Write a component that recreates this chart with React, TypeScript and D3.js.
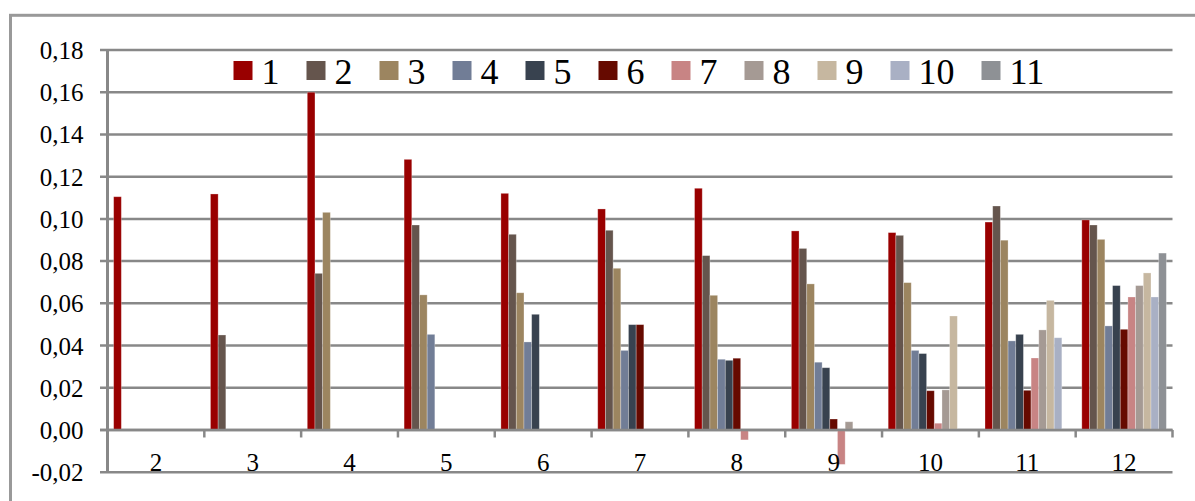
import React from "react";
import * as d3 from "d3";

const categories = ["2", "3", "4", "5", "6", "7", "8", "9", "10", "11", "12"];
const seriesNames = ["1", "2", "3", "4", "5", "6", "7", "8", "9", "10", "11"];
const seriesColors = ["#990000", "#65554D", "#9C8560", "#717D96", "#38424F", "#660A00", "#C88484", "#A59A94", "#C6B7A0", "#A9B0C4", "#8E9195"];

const s1 = [0.1105, 0.1118, 0.16, 0.1282, 0.1121, 0.1047, 0.1145, 0.0943, 0.0935, 0.0985, 0.0995];
const s2 = [null, 0.045, 0.0742, 0.0971, 0.0927, 0.0946, 0.0826, 0.086, 0.0922, 0.1061, 0.0971];
const s3 = [null, null, 0.1031, 0.064, 0.065, 0.0766, 0.0638, 0.0692, 0.0698, 0.0899, 0.0903];
const s4 = [null, null, null, 0.0453, 0.0417, 0.0377, 0.0335, 0.0321, 0.0377, 0.0422, 0.0493];
const s5 = [null, null, null, null, 0.0548, 0.0499, 0.033, 0.0295, 0.0362, 0.0453, 0.0684];
const s6 = [null, null, null, null, null, 0.0499, 0.034, 0.0052, 0.0186, 0.0188, 0.0477];
const s7 = [null, null, null, null, null, null, -0.0047, -0.0163, 0.0032, 0.0341, 0.063];
const s8 = [null, null, null, null, null, null, null, 0.0039, 0.019, 0.0474, 0.0684];
const s9 = [null, null, null, null, null, null, null, null, 0.054, 0.0614, 0.0744];
const s10 = [null, null, null, null, null, null, null, null, null, 0.0437, 0.063];
const s11 = [null, null, null, null, null, null, null, null, null, null, 0.0838];
const seriesValues: (number | null)[][] = [s1, s2, s3, s4, s5, s6, s7, s8, s9, s10, s11];

const yTicks = [-0.02, 0, 0.02, 0.04, 0.06, 0.08, 0.1, 0.12, 0.14, 0.16, 0.18];

const FONT = "Liberation Serif, serif";

export default function App() {
  const W = 1195, H = 501;
  const left = 107.5, right = 1172.5, top = 50, bottom = 472.2;
  const x0 = d3.scaleBand<string>().domain(categories).range([left, right]).paddingInner(0).paddingOuter(0);
  const x1 = d3.scaleBand<string>().domain(seriesNames).range([0, x0.bandwidth()]).paddingInner(0).paddingOuter(0.8);
  const y = d3.scaleLinear().domain([-0.02, 0.18]).range([bottom, top]);
  const fmt = (v: number) => d3.format(".2f")(v).replace(".", ",").replace("\u2212", "-");
  const grid = "#888888";

  const legendItems: { name: string; color: string; x: number }[] = [];
  let lx = 233.5;
  seriesNames.forEach((n, i) => {
    legendItems.push({ name: n, color: seriesColors[i], x: lx });
    lx += 19 + 9 + 18 * n.length + 27;
  });

  return (
    <svg width={W} height={H} style={{ position: "absolute", left: 0, top: 0, background: "#fff" }}>
      <rect x={0} y={0} width={W} height={H} fill="#fff" />
      <rect x={10.5} y={15.3} width={1300} height={600} fill="none" stroke="#999" strokeWidth={3} />
      {yTicks.map((t) => (
        <line key={"g" + t} x1={100} x2={right} y1={y(t)} y2={y(t)} stroke={grid} strokeWidth={2.5} />
      ))}
      {yTicks.map((t) => (
        <text key={"t" + t} x={83.5} y={y(t) + 9} textAnchor="end" fontSize={25} fill="#000" style={{ fontFamily: FONT }}>
          {fmt(t)}
        </text>
      ))}
      {seriesValues.map((vals, si) =>
        vals.map((v, ci) =>
          v === null ? null : (
            <rect
              key={si + "-" + ci}
              x={(x0(categories[ci]) as number) + (x1(seriesNames[si]) as number)}
              y={Math.min(y(v), y(0))}
              width={x1.bandwidth()}
              height={Math.abs(y(v) - y(0))}
              fill={seriesColors[si]}
              stroke="rgba(255,255,255,0.35)"
              strokeWidth={0.8}
            />
          )
        )
      )}
      <line x1={100} x2={right} y1={y(0)} y2={y(0)} stroke={grid} strokeWidth={2.5} />
      {categories.map((c) => (
        <line key={"ct" + c} x1={(x0(c) as number) + x0.bandwidth()} x2={(x0(c) as number) + x0.bandwidth()} y1={y(0)} y2={y(0) + 7.5} stroke={grid} strokeWidth={2.5} />
      ))}
      <line x1={left} x2={left} y1={top} y2={bottom} stroke={grid} strokeWidth={3} />
      {categories.map((c) => (
        <text key={"cl" + c} x={(x0(c) as number) + x0.bandwidth() / 2} y={471} textAnchor="middle" fontSize={25} fill="#000" style={{ fontFamily: FONT }}>
          {c}
        </text>
      ))}
      {legendItems.map((it) => (
        <g key={"lg" + it.name}>
          <rect x={it.x} y={61} width={19} height={19} fill={it.color} />
          <text x={it.x + 28} y={84.3} fontSize={36} fill="#000" style={{ fontFamily: FONT }}>
            {it.name}
          </text>
        </g>
      ))}
    </svg>
  );
}
